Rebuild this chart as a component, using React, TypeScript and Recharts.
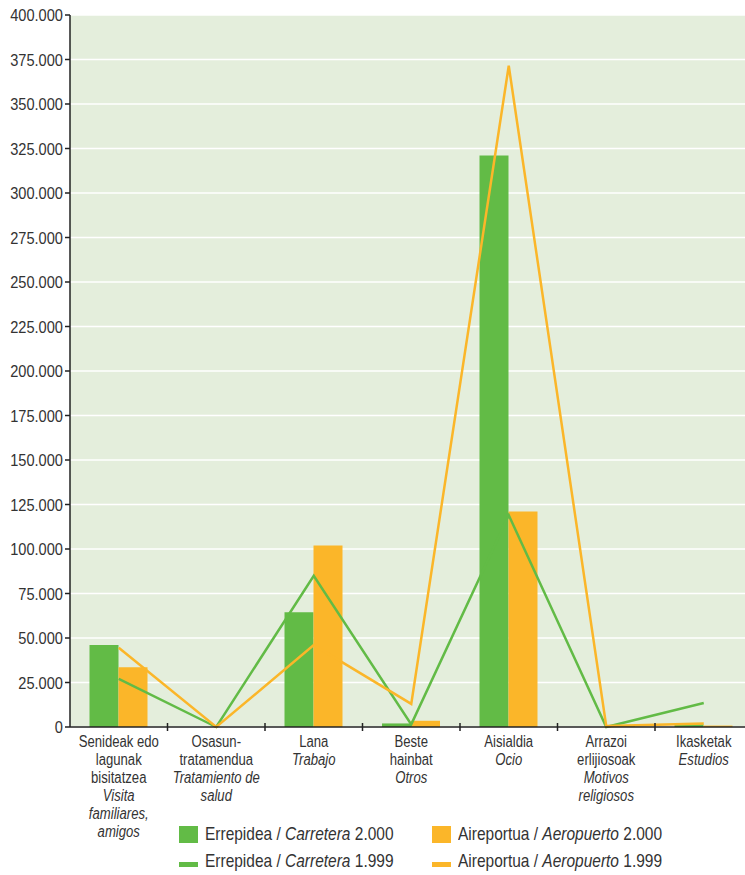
import React from 'react';
import { ComposedChart, Bar, Line, XAxis, YAxis, CartesianGrid } from 'recharts';

const categories = ['Senideak', 'Osasun', 'Lana', 'Beste', 'Aisialdia', 'Arrazoi', 'Ikasketak'];
const labelEu = [
    ['Senideak edo', 'lagunak', 'bisitatzea'],
    ['Osasun-', 'tratamendua'],
    ['Lana'],
    ['Beste', 'hainbat'],
    ['Aisialdia'],
    ['Arrazoi', 'erlijiosoak'],
    ['Ikasketak'],
];
const labelEs = [
    ['Visita', 'familiares,', 'amigos'],
    ['Tratamiento de', 'salud'],
    ['Trabajo'],
    ['Otros'],
    ['Ocio'],
    ['Motivos', 'religiosos'],
    ['Estudios'],
];

const road2000 = [46000, 0, 64500, 2000, 321000, 0, 1500];
const air2000 = [33500, 0, 102000, 3500, 121000, 1000, 800];
const road1999 = [27000, 0, 85000, 1500, 119000, 0, 13500];
const air1999 = [44500, 0, 46000, 13000, 371500, 500, 2000];

const yTicks = [0, 25000, 50000, 75000, 100000, 125000, 150000, 175000, 200000, 225000, 250000, 275000, 300000, 325000, 350000, 375000, 400000];

const GREEN = '#62bb46';
const ORANGE = '#fbb629';
const BG = '#e4eedc';
const TEXT = '#333333';
const FONT = "'Liberation Sans', Arial, sans-serif";

const data = categories.map((cat, i) => ({
    cat,
    road2000: road2000[i],
    air2000: air2000[i],
    road1999: road1999[i],
    air1999: air1999[i],
}));

const fmt = (v: number) => (v === 0 ? '0' : String(v).replace(/\B(?=(\d{3})+(?!\d))/g, '.'));

// condensed look: squeeze the text horizontally
const ValueTick = ({ x, y, payload }: any) => (
    <g transform={`translate(${x},${y})`}>
        <text x={0} y={0} dy="0.36em" textAnchor="end" transform="scale(0.86,1)" fontFamily={FONT} fontSize={17} fill={TEXT}>
            {fmt(payload.value)}
        </text>
    </g>
);

const CatTick = ({ x, y, payload }: any) => {
    const i = categories.indexOf(payload.value);
    const half = payload.offset ?? 48.75;
    const lines = [
        ...labelEu[i].map((t) => ({ t, it: false })),
        ...labelEs[i].map((t) => ({ t, it: true })),
    ];
    return (
        <g>
            {i > 0 && <line x1={x - half} x2={x - half} y1={y - 4} y2={y + 4} stroke="#222" strokeWidth={1.5} />}
            <g transform={`translate(${x},${y})`}>
                <text x={0} y={0} textAnchor="middle" transform="scale(0.82,1)" fontFamily={FONT} fontSize={16} fill={TEXT}>
                    {lines.map((l, k) => (
                        <tspan key={k} x={0} dy={k === 0 ? 20 : 18} fontStyle={l.it ? 'italic' : 'normal'}>
                            {l.t}
                        </tspan>
                    ))}
                </text>
            </g>
        </g>
    );
};

const legendItems = [
    { eu: 'Errepidea', es: 'Carretera', year: '2.000', color: GREEN, kind: 'bar' },
    { eu: 'Aireportua', es: 'Aeropuerto', year: '2.000', color: ORANGE, kind: 'bar' },
    { eu: 'Errepidea', es: 'Carretera', year: '1.999', color: GREEN, kind: 'line' },
    { eu: 'Aireportua', es: 'Aeropuerto', year: '1.999', color: ORANGE, kind: 'line' },
];

const Legend = () => (
    <div style={{ position: 'absolute', left: 0, top: 0, fontFamily: FONT, fontSize: 19, color: TEXT }}>
        {legendItems.map((it, k) => {
            const col = k % 2;
            const row = Math.floor(k / 2);
            const left = col === 0 ? 179 : 432;
            const top = row === 0 ? 823 : 850;
            return (
                <div key={k} style={{ position: 'absolute', left, top, whiteSpace: 'nowrap', display: 'flex', alignItems: 'center', height: 22 }}>
                    <span
                        style={{
                            display: 'inline-block',
                            width: 19,
                            height: it.kind === 'bar' ? 17 : 5,
                            background: it.color,
                            marginRight: 7,
                            marginTop: it.kind === 'bar' ? 0 : 6,
                        }}
                    />
                    <span style={{ display: 'inline-block', transform: 'scaleX(0.815)', transformOrigin: 'left center' }}>
                        {it.eu} / <i>{it.es}</i> {it.year}
                    </span>
                </div>
            );
        })}
    </div>
);

export default function App() {
    return (
        <div style={{ position: 'absolute', left: 0, top: 0, width: 745, height: 875, overflow: 'hidden', background: '#fff' }}>
            <ComposedChart
                width={755}
                height={875}
                data={data}
                margin={{ top: 15, right: 2.5, left: 0, bottom: 0 }}
                barCategoryGap="20%"
                barGap={0}
            >
                <CartesianGrid vertical={false} stroke="#ffffff" strokeWidth={1.5} fill={BG} />
                <XAxis
                    dataKey="cat"
                    height={148}
                    interval={0}
                    tickLine={false}
                    tickSize={0}
                    tickMargin={0}
                    tick={<CatTick />}
                    axisLine={{ stroke: '#222', strokeWidth: 1.5 }}
                />
                <YAxis
                    width={70}
                    domain={[0, 400000]}
                    ticks={yTicks}
                    interval={0}
                    tickSize={5}
                    tickMargin={2}
                    tickLine={{ stroke: '#222', strokeWidth: 1.5 }}
                    axisLine={{ stroke: '#222', strokeWidth: 1.5 }}
                    tick={<ValueTick />}
                />
                <Bar dataKey="road2000" fill={GREEN} isAnimationActive={false} />
                <Bar dataKey="air2000" fill={ORANGE} isAnimationActive={false} />
                <Line type="linear" dataKey="road1999" stroke={GREEN} strokeWidth={2.5} dot={false} isAnimationActive={false} />
                <Line type="linear" dataKey="air1999" stroke={ORANGE} strokeWidth={2.5} dot={false} isAnimationActive={false} />
            </ComposedChart>
            <Legend />
        </div>
    );
}
